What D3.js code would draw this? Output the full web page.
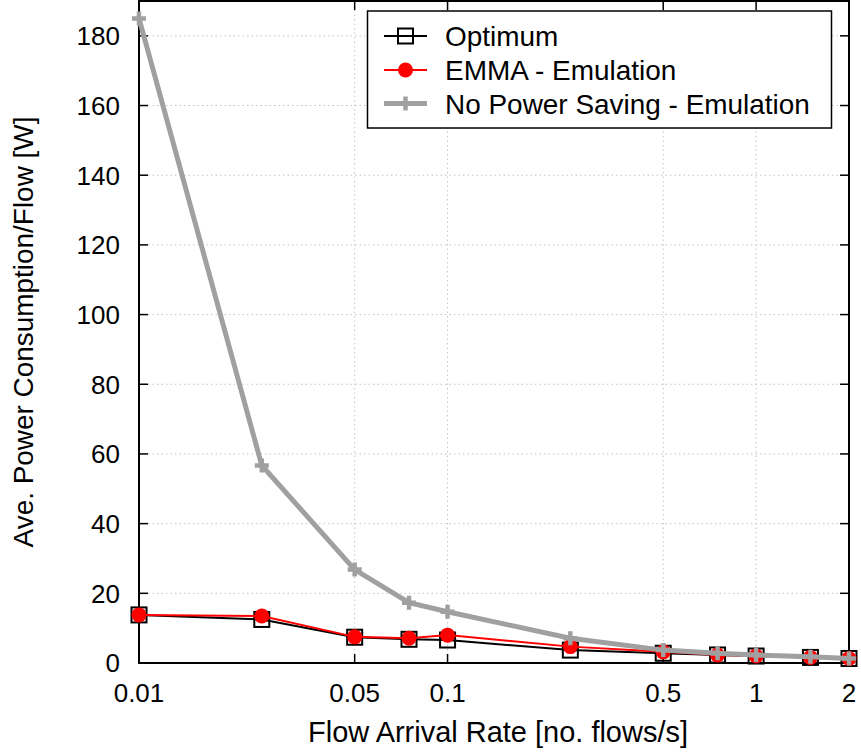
<!DOCTYPE html>
<html><head><meta charset="utf-8">
<script src="https://cdn.jsdelivr.net/npm/d3@7/dist/d3.min.js"></script>
<style>body{margin:0;background:#fff}svg{display:block}text{font-family:"Liberation Sans",Arial,sans-serif;fill:#000}</style>
</head><body><svg id="c" width="861" height="753"></svg>
<script>
const rates = [0.01, 0.025, 0.05, 0.075, 0.1, 0.25, 0.5, 0.75, 1, 1.5, 2];
const optimum = [13.8, 12.5, 7.4, 6.8, 6.6, 3.7, 2.8, 2.3, 2.0, 1.6, 1.3];
const emma = [13.8, 13.5, 7.5, 7.1, 8.0, 4.7, 3.2, 2.3, 2.0, 1.6, 1.3];
const noSaving = [185, 56.7, 26.8, 17.3, 14.7, 7.1, 3.7, 2.8, 2.3, 1.8, 1.3];
const xTicks = [0.01, 0.05, 0.1, 0.5, 1, 2];
const xTickLabels = ["0.01", "0.05", "0.1", "0.5", "1", "2"];
const yTicks = [0, 20, 40, 60, 80, 100, 120, 140, 160, 180];
const seriesNames = ["Optimum", "EMMA - Emulation", "No Power Saving - Emulation"];

const L = 139, R = 849, T = 1, B = 663;
const svg = d3.select("#c");
const x = d3.scaleLog().domain([0.01, 2]).range([L, R]);
const y = d3.scaleLinear().domain([0, 190]).range([B, T]);

function fitFont(sel, target, base) {
  sel.style("font-size", base + "px");
  const w = sel.node().getComputedTextLength();
  sel.style("font-size", (base * target / w).toFixed(2) + "px");
}

// grid
const g = svg.append("g");
g.selectAll(".gy").data(yTicks.filter(d => d > 0)).join("line")
  .attr("x1", L).attr("x2", R).attr("y1", d => y(d)).attr("y2", d => y(d))
  .attr("stroke", "#c4c4c4").attr("stroke-width", 1).attr("stroke-dasharray", "1.5,3");
g.selectAll(".gx").data(xTicks.filter(d => d > 0.01 && d < 2)).join("line")
  .attr("x1", d => x(d)).attr("x2", d => x(d)).attr("y1", T).attr("y2", B)
  .attr("stroke", "#c4c4c4").attr("stroke-width", 1).attr("stroke-dasharray", "1.5,3");

// axes (inward ticks, mirrored)
const tl = 9;
const ax = svg.append("g").attr("stroke", "#000").attr("stroke-width", 1.5);
xTicks.forEach(d => {
  ax.append("line").attr("x1", x(d)).attr("x2", x(d)).attr("y1", B).attr("y2", B - tl);
  ax.append("line").attr("x1", x(d)).attr("x2", x(d)).attr("y1", T).attr("y2", T + tl);
});
yTicks.forEach(d => {
  ax.append("line").attr("x1", L).attr("x2", L + tl).attr("y1", y(d)).attr("y2", y(d));
  ax.append("line").attr("x1", R).attr("x2", R - tl).attr("y1", y(d)).attr("y2", y(d));
});
svg.append("rect").attr("x", L).attr("y", T).attr("width", R - L).attr("height", B - T)
  .attr("fill", "none").attr("stroke", "#000").attr("stroke-width", 2);

// tick labels
svg.selectAll(".xl").data(xTicks).join("text")
  .attr("x", d => x(d)).attr("y", 702).attr("text-anchor", "middle")
  .style("font-size", "26px").text((d, i) => xTickLabels[i]);
svg.selectAll(".yl").data(yTicks).join("text")
  .attr("x", 120).attr("y", d => y(d)).attr("dy", "0.36em").attr("text-anchor", "end")
  .style("font-size", "26px").text(d => d);

// axis titles
const xt = svg.append("text").attr("x", 498).attr("y", 742).attr("text-anchor", "middle")
  .text("Flow Arrival Rate [no. flows/s]");
fitFont(xt, 380, 28);
const yt = svg.append("text").attr("transform", `translate(33,332) rotate(-90)`).attr("text-anchor", "middle")
  .text("Ave. Power Consumption/Flow [W]");
fitFont(yt, 431, 28);

// series
const line = d3.line().x((d, i) => x(rates[i])).y(d => y(d));
const plot = svg.append("g");
function squareMarker(sel, cx, cy) {
  sel.append("rect").attr("x", cx - 7.5).attr("y", cy - 7.5).attr("width", 15).attr("height", 15)
    .attr("fill", "none").attr("stroke", "#000").attr("stroke-width", 2);
}
function circleMarker(sel, cx, cy) {
  sel.append("circle").attr("cx", cx).attr("cy", cy).attr("r", 7.5).attr("fill", "#ff0000");
}
function plusMarker(sel, cx, cy) {
  sel.append("path").attr("d", `M${cx - 7},${cy}H${cx + 7}M${cx},${cy - 7}V${cy + 7}`)
    .attr("stroke", "#a0a0a0").attr("stroke-width", 4.5).attr("fill", "none");
}
plot.append("path").attr("d", line(optimum)).attr("fill", "none").attr("stroke", "#000").attr("stroke-width", 2);
optimum.forEach((v, i) => squareMarker(plot, x(rates[i]), y(v)));
plot.append("path").attr("d", line(emma)).attr("fill", "none").attr("stroke", "#ff0000").attr("stroke-width", 2);
emma.forEach((v, i) => circleMarker(plot, x(rates[i]), y(v)));
plot.append("path").attr("d", line(noSaving)).attr("fill", "none").attr("stroke", "#a0a0a0").attr("stroke-width", 5);
noSaving.forEach((v, i) => plusMarker(plot, x(rates[i]), y(v)));

// legend
const lg = svg.append("g");
lg.append("rect").attr("x", 367.5).attr("y", 11).attr("width", 464).attr("height", 117)
  .attr("fill", "#fff").attr("stroke", "#000").attr("stroke-width", 1.5);
const rowY = [36, 70, 103.5];
const lx1 = 384, lx2 = 427, mx = 405.5;
lg.append("line").attr("x1", lx1).attr("x2", lx2).attr("y1", rowY[0]).attr("y2", rowY[0]).attr("stroke", "#000").attr("stroke-width", 2);
squareMarker(lg, mx, rowY[0]);
lg.append("line").attr("x1", lx1).attr("x2", lx2).attr("y1", rowY[1]).attr("y2", rowY[1]).attr("stroke", "#ff0000").attr("stroke-width", 2);
circleMarker(lg, mx, rowY[1]);
lg.append("line").attr("x1", lx1).attr("x2", lx2).attr("y1", rowY[2]).attr("y2", rowY[2]).attr("stroke", "#a0a0a0").attr("stroke-width", 5);
plusMarker(lg, mx, rowY[2]);
const lt = lg.selectAll(".lt").data(seriesNames).join("text")
  .attr("x", 445).attr("y", (d, i) => rowY[i]).attr("dy", "0.36em").text(d => d);
fitFont(lt.filter((d, i) => i === 2), 365, 28);
const lfs = lt.filter((d, i) => i === 2).style("font-size");
lt.style("font-size", lfs);
</script></body></html>
